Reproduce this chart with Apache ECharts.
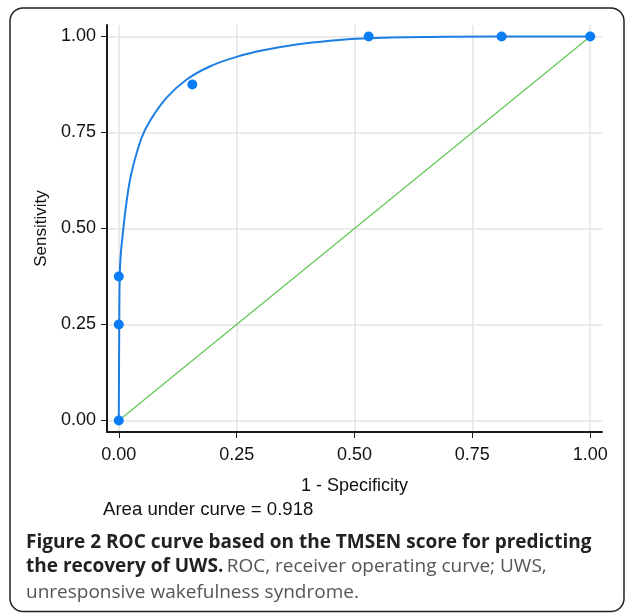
<!DOCTYPE html>
<html>
<head>
<meta charset="utf-8">
<script src="https://cdn.jsdelivr.net/npm/echarts@6/dist/echarts.min.js"></script>
<style>
html,body{margin:0;padding:0;background:#fff;}
#chart{width:627px;height:613px;}
</style>
</head>
<body>
<div id="chart"></div>
<script>
// Fitted ROC curve
const curveX = [0, 0.001, 0.002, 0.004, 0.008, 0.016, 0.027, 0.048, 0.066, 0.101, 0.144, 0.193, 0.25, 0.306, 0.377, 0.448, 0.519, 0.66, 0.8, 1.0];
const curveY = [0, 0.25, 0.375, 0.43, 0.48, 0.565, 0.645, 0.735, 0.78, 0.84, 0.888, 0.922, 0.947, 0.964, 0.979, 0.989, 0.995, 0.999, 1.0, 1.0];
// Observed operating points
const pointX = [0, 0, 0, 0.156, 0.53, 0.812, 1];
const pointY = [0, 0.25, 0.375, 0.875, 1, 1, 1];
// Reference (chance) diagonal
const refX = [0, 1];
const refY = [0, 1];
// Ticks
const xTicks = [0, 0.25, 0.5, 0.75, 1];
const yTicks = [0, 0.25, 0.5, 0.75, 1];

const zip = (a, b) => a.map((v, i) => [v, b[i]]);
const font = 'Liberation Sans, Arial, Helvetica, sans-serif';
const capFont = '"Open Sans", "Noto Sans", sans-serif';

const chart = echarts.init(document.getElementById('chart'), null, {renderer: 'canvas'});
chart.setOption({
  animation: false,
  backgroundColor: '#fff',
  grid: {left: 107, right: 25, top: 25, bottom: 181, containLabel: false},
  xAxis: {
    type: 'value', min: -0.025, max: 1.025,
    name: '1 - Specificity', nameLocation: 'middle', nameGap: 45,
    nameTextStyle: {fontFamily: font, fontSize: 18, color: '#111'},
    axisLine: {show: true, onZero: false, lineStyle: {color: '#1a1a1a', width: 2}},
    axisTick: {show: true, customValues: xTicks, length: 6, lineStyle: {color: '#1a1a1a', width: 1}},
    axisLabel: {customValues: xTicks, margin: 14, fontFamily: font, fontSize: 18, color: '#111', formatter: v => Number(v).toFixed(2)},
    splitLine: {show: true, lineStyle: {color: '#e4e4e4', width: 1.5}}
  },
  yAxis: {
    type: 'value', min: -0.03, max: 1.03,
    name: 'Sensitivity', nameLocation: 'middle', nameGap: 55, nameRotate: 90,
    nameTextStyle: {fontFamily: font, fontSize: 17, color: '#111'},
    axisLine: {show: true, onZero: false, lineStyle: {color: '#1a1a1a', width: 2}},
    axisTick: {show: true, customValues: yTicks, length: 6, lineStyle: {color: '#1a1a1a', width: 1}},
    axisLabel: {customValues: yTicks, margin: 11, fontFamily: font, fontSize: 18, color: '#111', formatter: v => Number(v).toFixed(2)},
    splitLine: {show: true, lineStyle: {color: '#e4e4e4', width: 1.5}}
  },
  series: [
    {
      type: 'line', data: zip(refX, refY), symbol: 'none',
      lineStyle: {color: '#5ec752', width: 1.2}, z: 2
    },
    {
      type: 'line', data: zip(curveX, curveY), symbol: 'none', smooth: 0.4,
      lineStyle: {color: '#1e7fe3', width: 2}, z: 3
    },
    {
      type: 'scatter', data: zip(pointX, pointY), symbol: 'circle', symbolSize: 10,
      itemStyle: {color: '#0a7cf4', opacity: 1}, z: 4
    }
  ],
  graphic: [
    {type: 'rect', shape: {x: 10, y: 8, width: 614, height: 603.5, r: 13}, style: {fill: 'none', stroke: '#222', lineWidth: 1.5}, z: -10, silent: true},
    {type: 'text', left: 103, top: 500, style: {text: 'Area under curve = 0.918', font: '18.6px ' + font, fill: '#111'}},
    {type: 'text', left: 26, top: 533, style: {text: 'Figure 2 ROC curve based on the TMSEN score for predicting', font: 'bold 19px ' + capFont, fill: '#222'}},
    {type: 'text', left: 26, top: 557, style: {
      text: '{b|the recovery of UWS.} {r|ROC, receiver operating curve; UWS,}',
      rich: {
        b: {fontFamily: capFont, fontWeight: 'bold', fontSize: 19, fill: '#222', color: '#222'},
        r: {fontFamily: capFont, fontWeight: 'normal', fontSize: 19, fill: '#555', color: '#555'}
      }
    }},
    {type: 'text', left: 26, top: 583, style: {text: 'unresponsive wakefulness syndrome.', font: '19px ' + capFont, fill: '#555'}}
  ]
});
</script>
</body>
</html>
